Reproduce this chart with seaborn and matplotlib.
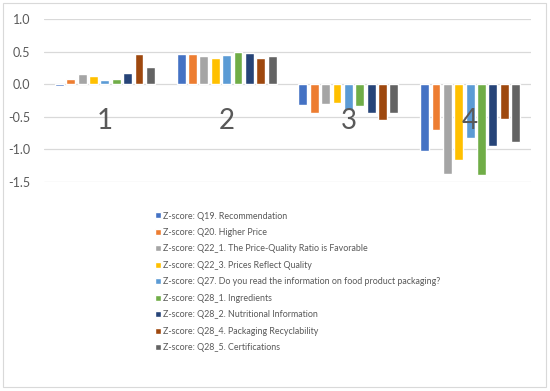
import matplotlib
matplotlib.use("Agg")
import matplotlib.pyplot as plt
import seaborn as sns
import pandas as pd
from matplotlib.patches import Rectangle

categories = ["1", "2", "3", "4"]
series = [
    "Z-score: Q19. Recommendation",
    "Z-score: Q20. Higher Price",
    "Z-score: Q22_1. The Price-Quality Ratio is Favorable",
    "Z-score: Q22_3. Prices Reflect Quality",
    "Z-score: Q27. Do you read the information on food product packaging?",
    "Z-score: Q28_1. Ingredients",
    "Z-score: Q28_2. Nutritional Information",
    "Z-score: Q28_4. Packaging Recyclability",
    "Z-score: Q28_5. Certifications",
]
q19 = [-0.03, 0.46, -0.32, -1.02]
q20 = [0.08, 0.47, -0.44, -0.70]
q22_1 = [0.16, 0.43, -0.30, -1.38]
q22_3 = [0.12, 0.40, -0.29, -1.16]
q27 = [0.06, 0.45, -0.39, -0.82]
q28_1 = [0.08, 0.49, -0.33, -1.39]
q28_2 = [0.17, 0.48, -0.44, -0.95]
q28_4 = [0.47, 0.40, -0.55, -0.54]
q28_5 = [0.26, 0.44, -0.44, -0.89]
values = [q19, q20, q22_1, q22_3, q27, q28_1, q28_2, q28_4, q28_5]
colors = ["#4472C4", "#ED7D31", "#A5A5A5", "#FFC000", "#5B9BD5",
          "#70AD47", "#264478", "#9E480E", "#636363"]
yticks = [1.0, 0.5, 0.0, -0.5, -1.0, -1.5]

rows = []
for s, vals in zip(series, values):
    for c, v in zip(categories, vals):
        rows.append({"Cluster": c, "Series": s, "Z": v})
df = pd.DataFrame(rows)

sns.set_style("white")
plt.rcParams["font.family"] = ["Lato", "DejaVu Sans"]

fig = plt.figure(figsize=(5.5, 3.91), dpi=100)
fig.patches.append(Rectangle((3/550, 4/391), 543/550, 384/391, transform=fig.transFigure,
                             fill=False, edgecolor="#D9D9D9", linewidth=0.8))
ax = fig.add_axes([44/550, 209/391, 487/550, 163/391])

sns.barplot(data=df, x="Cluster", y="Z", hue="Series", hue_order=series,
            order=categories, palette=colors, width=0.84, gap=0.22,
            saturation=1, errorbar=None, ax=ax, legend=True, zorder=3)

ax.set_ylim(-1.5, 1.0)
ax.set_xlim(-0.5, 3.5)
ax.set_yticks(yticks)
ax.set_yticklabels([f"{t:.1f}" for t in yticks], fontsize=9, color="#595959")
ax.tick_params(axis="y", length=0, pad=10)
ax.set_xticks([])
ax.set_xlabel("")
ax.set_ylabel("")
for sp in ax.spines.values():
    sp.set_visible(False)
ax.grid(axis="y", color="#D9D9D9", linewidth=0.9, zorder=0)
ax.set_axisbelow(True)

for i, c in enumerate(categories):
    ax.text(i, -0.57, c, ha="center", va="center", fontsize=20, color="#595959", zorder=4)

handles, labels = ax.get_legend_handles_labels()
ax.legend(handles, labels, loc="upper left", bbox_to_anchor=(155/550, 1 - 211.5/391),
          bbox_transform=fig.transFigure, frameon=False, fontsize=6.4,
          handlelength=0.65, handleheight=0.65, handletextpad=0.3,
          labelspacing=0.84, labelcolor="#595959", borderaxespad=0, borderpad=0)

fig.savefig("out.png", dpi=100)
